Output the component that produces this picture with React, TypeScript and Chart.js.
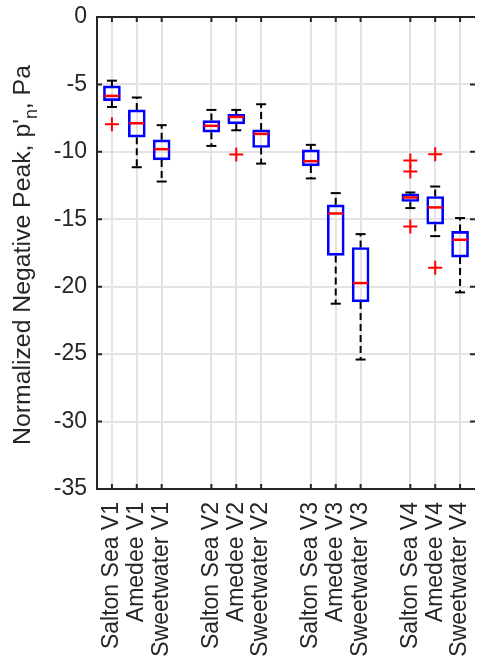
import React, { useEffect, useRef } from "react";
import { Chart, registerables } from "chart.js";

Chart.register(...registerables);

const positions = [1, 2, 3, 5, 6, 7, 9, 10, 11, 13, 14, 15];
const labels = [
  "Salton Sea V1", "Amedee V1", "Sweetwater V1",
  "Salton Sea V2", "Amedee V2", "Sweetwater V2",
  "Salton Sea V3", "Amedee V3", "Sweetwater V3",
  "Salton Sea V4", "Amedee V4", "Sweetwater V4",
];
const whiskerHigh = [-4.72, -5.97, -8.02, -6.89, -6.89, -6.47, -9.48, -13.06, -16.1, -13.01, -12.57, -14.91];
const q3 = [-5.11, -6.89, -9.11, -7.68, -7.21, -8.37, -9.85, -13.93, -17.09, -13.11, -13.31, -15.9];
const medians = [-5.85, -7.88, -9.8, -8.07, -7.41, -8.67, -10.69, -14.57, -19.73, -13.38, -14.12, -16.52];
const q1 = [-6.2, -8.91, -10.6, -8.54, -7.93, -9.68, -11.04, -17.68, -21.13, -13.68, -15.36, -17.8];
const whiskerLow = [-6.67, -11.14, -12.2, -9.56, -8.4, -10.87, -11.97, -21.26, -25.4, -14.17, -16.25, -20.42];
const outlierX = [1, 6, 13, 13, 13, 14, 14];
const outlierY = [-7.95, -10.2, -10.64, -11.46, -15.53, -10.17, -18.6];
const yTicks = [0, -5, -10, -15, -20, -25, -30, -35];

const FONT = "'Liberation Sans', Arial, Helvetica, sans-serif";
const AXIS = "#262626";
const GRID = "#e3e3e3";

const framePlugin = {
  id: "frame",
  beforeDatasetsDraw(chart: any) {
    const { ctx, chartArea: a, scales } = chart;
    const xs = scales.x;
    const ys = scales.y;
    ctx.save();
    ctx.strokeStyle = GRID;
    ctx.lineWidth = 2;
    ctx.beginPath();
    for (const p of positions) {
      const px = Math.round(xs.getPixelForValue(p));
      ctx.moveTo(px, a.top);
      ctx.lineTo(px, a.bottom);
    }
    for (const v of yTicks) {
      const py = Math.round(ys.getPixelForValue(v));
      ctx.moveTo(a.left, py);
      ctx.lineTo(a.right, py);
    }
    ctx.stroke();
    ctx.restore();
  },
  afterDraw(chart: any) {
    const { ctx, chartArea: a, scales } = chart;
    const xs = scales.x;
    const ys = scales.y;
    const rightEdge = a.right + 2;
    ctx.save();
    ctx.strokeStyle = AXIS;
    ctx.lineWidth = 2;
    ctx.beginPath();
    ctx.moveTo(rightEdge, a.top);
    ctx.lineTo(a.left, a.top);
    ctx.lineTo(a.left, a.bottom);
    ctx.lineTo(rightEdge, a.bottom);
    ctx.stroke();
    const tl = 5;
    ctx.beginPath();
    for (const p of positions) {
      const px = xs.getPixelForValue(p);
      ctx.moveTo(px, a.bottom);
      ctx.lineTo(px, a.bottom - tl);
      ctx.moveTo(px, a.top);
      ctx.lineTo(px, a.top + tl);
    }
    for (const v of yTicks) {
      const py = ys.getPixelForValue(v);
      ctx.moveTo(a.left, py);
      ctx.lineTo(a.left + tl, py);
      ctx.moveTo(rightEdge, py);
      ctx.lineTo(rightEdge - tl, py);
    }
    ctx.stroke();

    // y-axis title with subscript
    const size = 24.8;
    const sub = size * 0.72;
    const partA = "Normalized Negative Peak, p'";
    const partB = "n";
    const partC = ", Pa";
    ctx.font = `${size}px ${FONT}`;
    const wA = ctx.measureText(partA).width;
    const wC = ctx.measureText(partC).width;
    ctx.font = `${sub}px ${FONT}`;
    const wB = ctx.measureText(partB).width;
    const total = wA + wB + wC;
    const cy = 255;
    ctx.translate(30, cy);
    ctx.rotate(-Math.PI / 2);
    ctx.fillStyle = AXIS;
    ctx.textBaseline = "alphabetic";
    ctx.textAlign = "left";
    let x = -total / 2;
    ctx.font = `${size}px ${FONT}`;
    ctx.fillText(partA, x, 0);
    x += wA;
    ctx.font = `${sub}px ${FONT}`;
    ctx.fillText(partB, x, size * 0.28);
    x += wB;
    ctx.font = `${size}px ${FONT}`;
    ctx.fillText(partC, x, 0);
    ctx.restore();
  },
};

export default function App() {
  const ref = useRef<HTMLCanvasElement | null>(null);
  useEffect(() => {
    document.body.style.margin = "0";
    const canvas = ref.current!;
    const whiskerData: any[] = [];
    positions.forEach((p, i) => {
      whiskerData.push({ x: p, y: q3[i] }, { x: p, y: whiskerHigh[i] }, { x: p, y: null });
      whiskerData.push({ x: p, y: q1[i] }, { x: p, y: whiskerLow[i] }, { x: p, y: null });
    });
    const capData: any[] = [];
    positions.forEach((p, i) => {
      capData.push({ x: p, y: whiskerHigh[i] }, { x: p, y: whiskerLow[i] });
    });
    const chart = new Chart(canvas, {
      type: "bar",
      data: {
        datasets: [
          {
            type: "bar",
            data: positions.map((p, i) => ({ x: p, y: [q1[i], q3[i]] })) as any,
            backgroundColor: "rgba(0,0,0,0)",
            borderColor: "#0000ff",
            borderWidth: 2,
            borderSkipped: false,
            barThickness: 17,
            order: 2,
          } as any,
          {
            type: "scatter",
            data: positions.map((p, i) => ({ x: p, y: medians[i] })),
            pointStyle: "line",
            pointRadius: 7.5,
            pointBorderColor: "#ff0000",
            pointBorderWidth: 2.5,
            order: 0,
          } as any,
          {
            type: "line",
            data: whiskerData,
            borderColor: "#000000",
            borderWidth: 2,
            borderDash: [7, 4],
            pointRadius: 0,
            spanGaps: false,
            fill: false,
            order: 4,
          } as any,
          {
            type: "scatter",
            data: capData,
            pointStyle: "line",
            pointRadius: 5,
            pointBorderColor: "#000000",
            pointBorderWidth: 2,
            order: 3,
          } as any,
          {
            type: "scatter",
            data: outlierX.map((x, i) => ({ x, y: outlierY[i] })),
            pointStyle: "cross",
            pointRadius: 7,
            pointBorderColor: "#ff0000",
            pointBorderWidth: 2,
            order: 1,
          } as any,
        ],
      },
      options: {
        animation: false,
        responsive: false,
        maintainAspectRatio: false,
        layout: { padding: { top: 17, right: 0, left: 0, bottom: 0 } },
        plugins: { legend: { display: false }, tooltip: { enabled: false } },
        scales: {
          x: {
            type: "linear",
            min: 0.4,
            max: 15.52,
            offset: false,
            afterBuildTicks: (scale: any) => {
              scale.ticks = positions.map((v) => ({ value: v }));
            },
            afterFit: (scale: any) => {
              scale.height = 174;
              scale.paddingLeft = 0;
              scale.paddingRight = 0;
            },
            grid: { display: false, drawTicks: false, offset: false },
            border: { display: false },
            ticks: {
              autoSkip: false,
              minRotation: 90,
              maxRotation: 90,
              padding: 13,
              color: AXIS,
              font: { family: FONT, size: 23 },
              callback: (v: any) => {
                const idx = positions.indexOf(Number(v));
                return idx >= 0 ? labels[idx] : "";
              },
            },
          },
          y: {
            type: "linear",
            min: -35,
            max: 0,
            afterBuildTicks: (scale: any) => {
              scale.ticks = yTicks.map((v) => ({ value: v }));
            },
            afterFit: (scale: any) => {
              scale.width = 97;
              scale.paddingTop = 0;
              scale.paddingBottom = 0;
            },
            grid: { display: false, drawTicks: false },
            border: { display: false },
            ticks: {
              padding: 10,
              color: AXIS,
              font: { family: FONT, size: 23 },
              callback: (v: any) => String(v),
            },
          },
        },
      },
      plugins: [framePlugin],
    });
    return () => chart.destroy();
  }, []);
  return <canvas ref={ref} width={483} height={663} style={{ display: "block" }} />;
}
